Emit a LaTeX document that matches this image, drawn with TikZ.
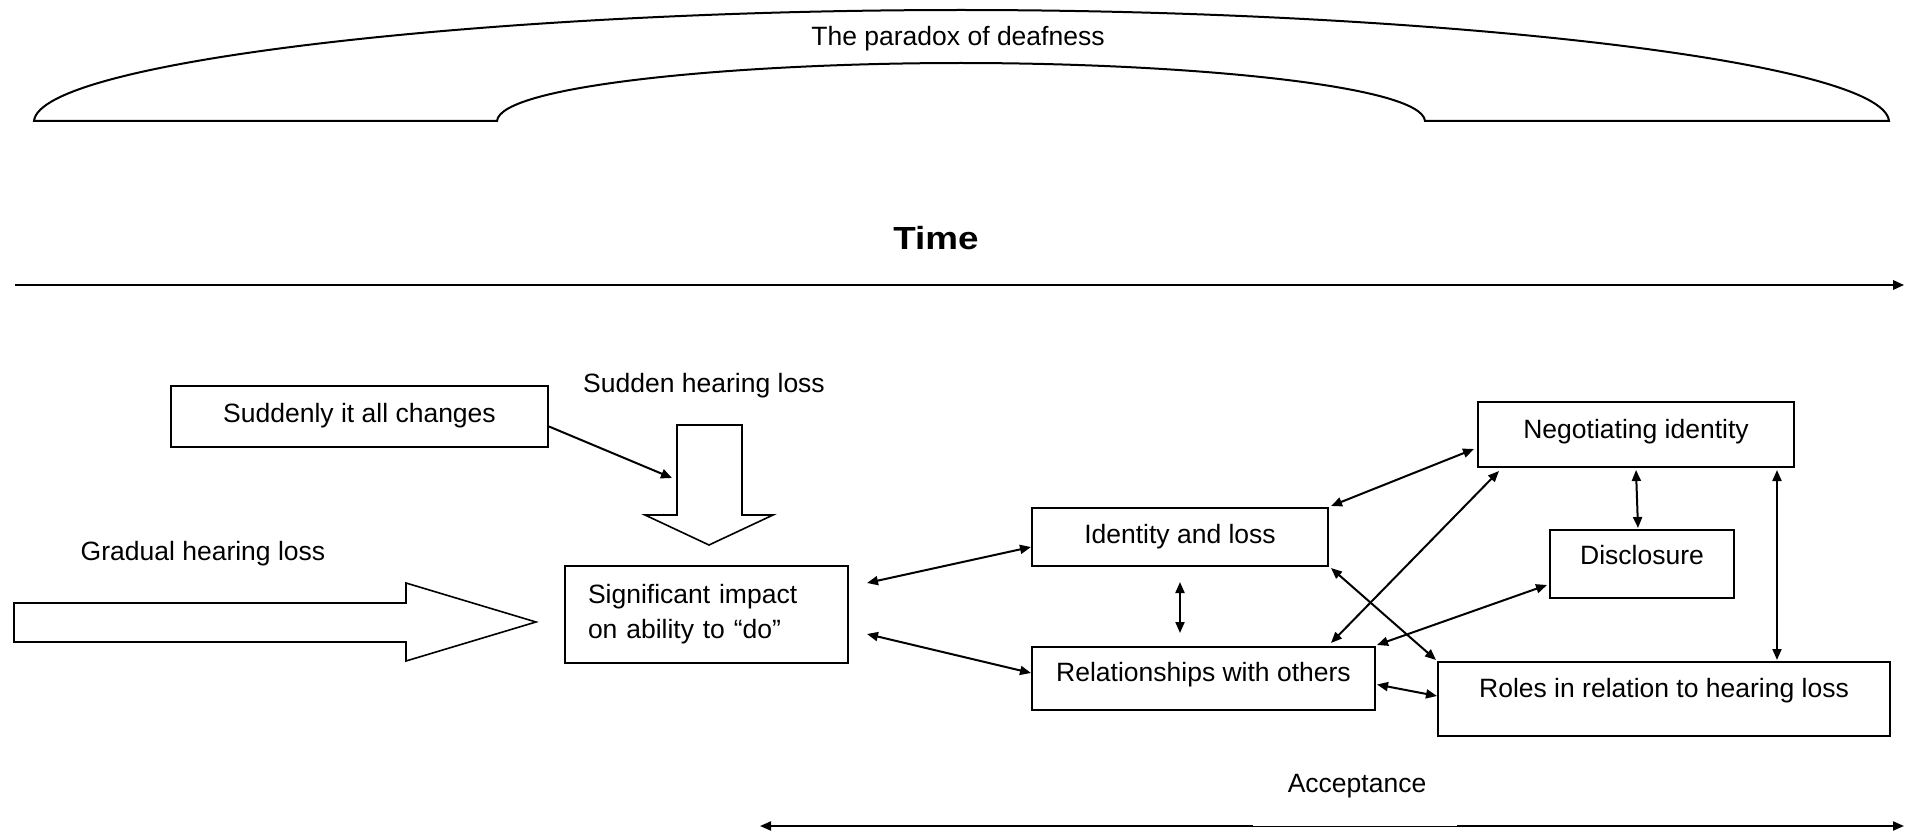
\documentclass[tikz,border=0pt]{standalone}
\usepackage{graphicx}
\usepackage{fontspec}
\setmainfont{Liberation Sans}
\usetikzlibrary{arrows.meta,calc}
\newcommand\fsz{\fontsize{26.5}{35}\selectfont}
\begin{document}
\begin{tikzpicture}[x=1pt,y=-1pt,
  box/.style={draw, line width=2pt, inner sep=0pt, anchor=north west, font=\fsz},
  lbl/.style={font=\fsz, anchor=base, inner sep=0pt},
  conn/.style={line width=2pt, {Triangle[length=11pt,width=9pt]}-{Triangle[length=11pt,width=9pt]}},
  one/.style={line width=2pt, -{Triangle[length=11pt,width=9.5pt]}},
  blockarrow/.style={draw, line width=1.6pt, line join=miter},
  paradox/.style={draw, line width=2pt}
]
\useasboundingbox (0,0) rectangle (1912,832);

% paradox bracket
\draw[paradox] (34,121) .. controls (40,60) and (500,10) .. (961,10)
  .. controls (1422,10) and (1883,60) .. (1889,121) -- (1425,121)
  .. controls (1422,85) and (1182,63) .. (961,63)
  .. controls (740,63) and (500,85) .. (497,121) -- cycle;
\node[lbl] (paradoxtxt) at (958,46) {The paradox of deafness};

% time
\node[anchor=base, inner sep=0pt, font=\fontsize{32}{38}\selectfont\bfseries] (timetxt) at (936,249) {\scalebox{1.15}[1]{Time}};
\coordinate (timeL) at (15,285);
\coordinate (timeR) at (1904,285);
\draw[one] (timeL) -- (timeR);

% boxes
\node[box, minimum width=377pt, text height=36pt, text depth=25pt] (sud) at (170,385) {Suddenly it all changes};
\node[box, text width=237pt, inner xsep=23pt, minimum height=97pt, align=left] (sig) at (564,565) {Significant impact\\on ability to “do”};
\node[box, minimum width=296pt, text height=35pt, text depth=23pt] (ident) at (1031,507) {Identity and loss};
\node[box, minimum width=343pt, text height=34pt, text depth=29pt] (rel) at (1031,646) {Relationships with others};
\node[box, minimum width=316pt, text height=36pt, text depth=29pt] (neg) at (1477,401) {Negotiating identity};
\node[box, minimum width=184pt, text height=34pt, text depth=34pt] (disc) at (1549,529) {Disclosure};
\node[box, minimum width=452pt, text height=35pt, text depth=39pt] (roles) at (1437,661) {Roles in relation to hearing loss};

% labels
\node[lbl] (suddenlbl) at (704,392) {Sudden hearing loss};
\node[lbl] (gradlbl) at (203,560) {Gradual hearing loss};
\node[lbl] (acclbl) at (1357,792) {Acceptance};

% block arrows
\draw[blockarrow] (677,425) -- (742,425) -- (742,515) -- (773,515) -- (709,545) -- (645,515) -- (677,515) -- cycle;
\draw[blockarrow] (14,603) -- (406,603) -- (406,583) -- (536,622) -- (406,661) -- (406,642) -- (14,642) -- cycle;

% connectors
\coordinate (sudT) at (672,478);
\draw[one] ($(sud.east)+(0,10)$) -- (sudT);
\draw[conn] ($(sig.north east)+(18,18)$) -- ($(ident.south west)+(0,-20)$);
\draw[conn] ($(sig.north east)+(18,69)$) -- ($(rel.north west)+(0,27)$);
\draw[conn] ($(ident.south)+(0,15)$) -- ($(rel.north -| ident.south)+(0,-13)$);
\draw[conn] ($(ident.north east)+(2,-1)$) -- ($(neg.south west)+(-3,-19)$);
\draw[conn] ($(neg.south west)+(22,3)$) -- ($(rel.north east)+(-45,-3)$);
\draw[conn] ($(ident.south east)+(2,1)$) -- ($(roles.north west)+(-1,-1)$);
\draw[conn] ($(rel.north east)+(1,-1)$) -- ($(disc.south west)+(-2,-14)$);
\draw[conn] ($(rel.east)+(1,6)$) -- ($(roles.west)+(0,-3)$);
\draw[conn] ($(neg.south west)+(159,2)$) -- ($(disc.north west)+(89,-1)$);
\draw[conn] ($(neg.south east)+(-18,2)$) -- ($(neg.south east |- roles.north)+(-18,-1)$);

% acceptance
\coordinate (accL) at (760,826);
\coordinate (accR) at (1904,826);
\draw[conn] (accL) -- (accR);
\fill[white] (1253,812) rectangle (1457,825.6);
\end{tikzpicture}
\end{document}
